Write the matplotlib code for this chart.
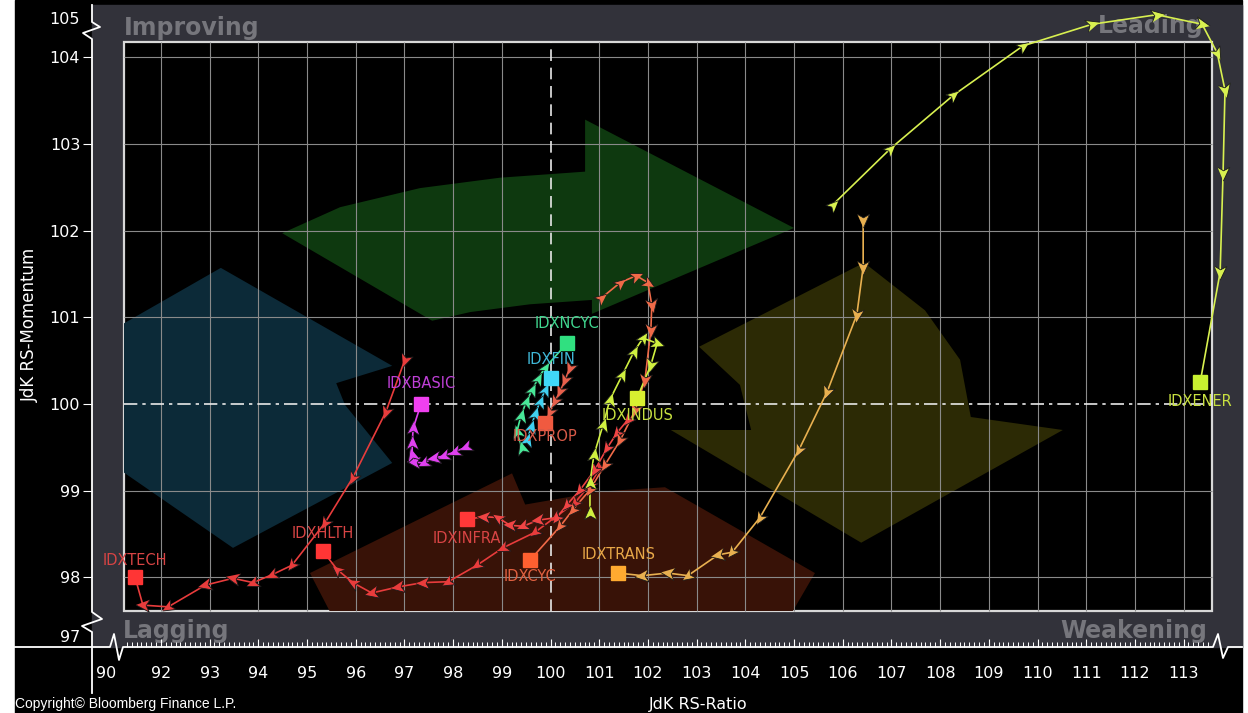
import numpy as np
import matplotlib.pyplot as plt
from matplotlib.patches import Rectangle, Polygon
from matplotlib.ticker import FixedLocator
from matplotlib import font_manager as fm

# RRG tails: JdK RS-Ratio (x) and JdK RS-Momentum (y), oldest -> latest
tech_x = [97.01, 96.62, 95.94, 95.37, 94.69, 94.28, 93.89, 93.48, 92.91, 92.15, 91.63, 91.47]
tech_y = [100.51, 99.91, 99.15, 98.63, 98.14, 98.03, 97.94, 97.99, 97.91, 97.66, 97.68, 98.00]
hlth_x = [101.02, 100.81, 100.50, 100.11, 99.68, 99.02, 98.49, 97.90, 97.38, 96.87, 96.33, 95.94, 95.62, 95.33]
hlth_y = [99.26, 99.07, 98.86, 98.70, 98.52, 98.34, 98.14, 97.95, 97.94, 97.89, 97.82, 97.94, 98.09, 98.30]
infra_x = [101.59, 101.37, 101.16, 100.91, 100.61, 100.34, 100.13, 99.74, 99.44, 99.17, 98.92, 98.63, 98.29]
infra_y = [99.82, 99.67, 99.49, 99.24, 99.01, 98.84, 98.69, 98.66, 98.59, 98.60, 98.69, 98.70, 98.67]
cyc_x = [101.04, 101.43, 101.76, 102.00, 102.08, 102.06, 101.94, 101.74, 101.43, 101.12, 100.81, 100.46, 100.20, 99.58]
cyc_y = [101.22, 101.40, 101.48, 101.40, 101.14, 100.85, 100.28, 99.93, 99.58, 99.30, 99.01, 98.78, 98.59, 98.20]
prop_x = [100.40, 100.30, 100.20, 100.09, 99.99, 99.89]
prop_y = [100.42, 100.28, 100.15, 100.03, 99.91, 99.78]
fin_x = [99.52, 99.60, 99.68, 99.78, 99.89, 100.01]
fin_y = [99.58, 99.73, 99.88, 100.02, 100.16, 100.30]
ncyc_x = [99.41, 99.31, 99.39, 99.50, 99.62, 99.74, 99.89, 100.34]
ncyc_y = [99.49, 99.68, 99.86, 100.02, 100.16, 100.29, 100.42, 100.70]
indus_x = [100.81, 100.81, 100.89, 101.08, 101.22, 101.47, 101.71, 101.90, 102.19, 102.06, 101.78]
indus_y = [98.74, 99.09, 99.41, 99.76, 100.05, 100.33, 100.60, 100.76, 100.70, 100.45, 100.07]
basic_x = [98.26, 98.04, 97.81, 97.61, 97.40, 97.20, 97.16, 97.16, 97.18, 97.34]
basic_y = [99.50, 99.45, 99.40, 99.38, 99.32, 99.33, 99.41, 99.55, 99.72, 100.00]
trans_x = [106.42, 106.42, 106.29, 105.68, 105.10, 104.30, 103.73, 103.44, 102.82, 102.41, 101.88, 101.39]
trans_y = [102.12, 101.58, 101.03, 100.14, 99.47, 98.69, 98.29, 98.26, 98.02, 98.05, 98.02, 98.05]
ener_x = [105.80, 106.97, 108.27, 109.70, 111.12, 112.45, 113.38, 113.69, 113.85, 113.81, 113.75, 113.34]
ener_y = [102.30, 102.94, 103.56, 104.13, 104.38, 104.49, 104.38, 104.05, 103.62, 102.66, 101.52, 100.25]

x_major = list(range(92, 114))
y_major = list(range(98, 105))

# faded rotation arrows in the background (data coords)
green_arrow = [(94.49, 101.97), (95.68, 102.27), (97.32, 102.49), (98.96, 102.61), (100.71, 102.68),
               (100.71, 103.28), (105.00, 102.03), (100.85, 101.04), (100.85, 101.20), (99.58, 101.15),
               (98.35, 101.06), (97.57, 100.96)]
blue_arrow = [(93.23, 101.57), (96.75, 100.44), (95.60, 100.24), (95.78, 99.99), (96.75, 99.32),
              (93.48, 98.34), (91.16, 99.24), (90.65, 100.74)]
yellow_arrow = [(106.44, 101.63), (107.69, 101.08), (108.41, 100.51), (108.63, 99.85), (110.52, 99.70),
                (106.38, 98.40), (102.47, 99.70), (104.12, 99.70), (103.89, 100.22), (103.05, 100.66)]
red_arrow = [(99.21, 99.20), (95.06, 98.05), (95.88, 97.16), (104.51, 97.16), (105.43, 98.05),
             (102.35, 99.04), (101.02, 98.99), (99.48, 98.84)]

W, H = 1248, 713
avail = {f.name for f in fm.fontManager.ttflist}
narrow = 'Liberation Sans Narrow' in avail
lab_font = 'Liberation Sans Narrow' if narrow else 'DejaVu Sans'
tick_fs = 14 if narrow else 11.5
name_fs = 13 if narrow else 10.5

fig = plt.figure(figsize=(W / 100, H / 100), dpi=100)
fig.patch.set_facecolor('white')

# pixel overlay for the frame, broken axes and captions
bg = fig.add_axes([0, 0, 1, 1], zorder=0)
bg.set_xlim(0, W)
bg.set_ylim(H, 0)
bg.axis('off')
bg.add_patch(Rectangle((15, 0), 1227, 713, color='black'))
bg.add_patch(Rectangle((92, 5), 1150, 642, color='#32323a'))
bg.plot([92, 92, 100, 83, 92, 92, 102, 82, 92, 92], [5, 22, 27, 33, 39, 612, 619, 626, 632, 693],
        color='white', lw=1.3)
bg.plot([15, 110, 114, 119, 123, 1213, 1218, 1223, 1228, 1242], [647, 647, 634, 660, 647, 647, 634, 658, 647, 647],
        color='white', lw=1.3)
bg.text(80, 20, '105', ha='right', va='center', color='white', fontsize=tick_fs, family=lab_font)
bg.text(80, 637, '97', ha='right', va='center', color='white', fontsize=tick_fs, family=lab_font)
bg.text(106, 666, '90', ha='center', va='top', color='white', fontsize=tick_fs, family=lab_font)
bg.text(698, 704, 'JdK RS-Ratio', ha='center', va='center', color='white', fontsize=11.5)
bg.text(30, 325, 'JdK RS-Momentum', ha='center', va='center', rotation=90, color='white', fontsize=12)
bg.text(15, 704, 'Copyright\u00a9 Bloomberg Finance L.P.', ha='left', va='center', color='white',
        fontsize=10, family=['Liberation Sans', 'DejaVu Sans'])
qcol = '#76767c'
bg.text(124, 35, 'Improving', ha='left', va='baseline', color=qcol, fontsize=17, fontweight='bold')
bg.text(1203, 33, 'Leading', ha='right', va='baseline', color=qcol, fontsize=17, fontweight='bold')
bg.text(123, 638, 'Lagging', ha='left', va='baseline', color=qcol, fontsize=17, fontweight='bold')
bg.text(1207, 638, 'Weakening', ha='right', va='baseline', color=qcol, fontsize=17, fontweight='bold')

# data axes
ax = fig.add_axes([92 / W, (H - 647) / H, 1150 / W, 642 / H], zorder=1)
ax.set_facecolor('none')
ax.set_xlim(90.585, 114.199)
ax.set_ylim(97.197, 104.602)
for s in ax.spines.values():
    s.set_visible(False)

x0, x1, y0, y1 = 91.24, 113.583, 97.612, 104.175
plot_box = Rectangle((x0, y0), x1 - x0, y1 - y0, facecolor='black', edgecolor='#d8d8d8', lw=1.6, zorder=0.5)
ax.add_patch(plot_box)

for pts, col in [(green_arrow, '#0e390f'), (blue_arrow, '#0c2a38'), (yellow_arrow, '#2c2a05'), (red_arrow, '#381207')]:
    p = Polygon(pts, closed=True, facecolor=col, edgecolor='none', zorder=1)
    ax.add_patch(p)
    p.set_clip_path(plot_box)

ax.vlines([v for v in x_major if v != 100], y0, y1, color='#8a8a8a', lw=0.8, zorder=2)
ax.hlines([v for v in y_major if v != 100], x0, x1, color='#8a8a8a', lw=0.8, zorder=2)
ax.vlines(100, y0, y1, color='#e8e8e8', lw=1.2, linestyles=(0, (7, 4)), zorder=2)
ax.hlines(100, x0, x1, color='#e8e8e8', lw=1.2, linestyles=(0, (8, 3, 2, 3)), zorder=2)

ax.set_xticks(x_major)
ax.set_xticklabels([str(v) for v in x_major])
ax.xaxis.set_minor_locator(FixedLocator(np.arange(913, 1136) / 10))
ax.set_yticks(y_major)
ax.set_yticklabels([str(v) for v in y_major])
ax.tick_params(axis='x', which='major', direction='in', length=6, width=0.8, color='white',
               labelcolor='white', pad=13.5, labelsize=tick_fs)
ax.tick_params(axis='x', which='minor', direction='in', length=3.5, width=0.7, color='white')
ax.tick_params(axis='y', which='major', direction='out', length=6.5, width=0.8, color='white',
               labelcolor='white', pad=2, labelsize=tick_fs)
for lab in ax.get_xticklabels() + ax.get_yticklabels():
    lab.set_family(lab_font)

series = [
    ('IDXTECH', tech_x, tech_y, '#e83c3c', '#ff3535', '#d84444', 12),
    ('IDXHLTH', hlth_x, hlth_y, '#e83c3c', '#ff3535', '#d84444', 13),
    ('IDXINFRA', infra_x, infra_y, '#f04444', '#ff3838', '#d84444', -13.5),
    ('IDXCYC', cyc_x, cyc_y, '#f06a48', '#ff6030', '#e06040', -12),
    ('IDXPROP', prop_x, prop_y, '#e8604c', '#f05a40', '#d85a48', -10),
    ('IDXFIN', fin_x, fin_y, '#40d0f0', '#40d8f8', '#40b8d8', 13),
    ('IDXNCYC', ncyc_x, ncyc_y, '#48e898', '#30e080', '#40d890', 14),
    ('IDXBASIC', basic_x, basic_y, '#e040f0', '#f040f0', '#c040d8', 15),
    ('IDXINDUS', indus_x, indus_y, '#d0f040', '#d8f030', '#c8e040', -13),
    ('IDXTRANS', trans_x, trans_y, '#e8b050', '#ffaa30', '#e8a848', 13),
    ('IDXENER', ener_x, ener_y, '#d8f050', '#c8f030', '#c8e040', -14),
]

dart = np.array([[1.0, 0.0], [-0.8, 0.8], [-0.35, 0.0], [-0.8, -0.8]])


def dart_at(dx, dy):
    a = np.arctan2(dy, dx)
    c, s = np.cos(a), np.sin(a)
    return dart @ np.array([[c, s], [-s, c]])


for name, xs, ys, lcol, scol, tcol, dy in series:
    ax.plot(xs, ys, color=lcol, lw=1.2, zorder=4, solid_capstyle='round')
    d = ax.transData.transform(np.column_stack([xs, ys]))
    for i in range(len(xs) - 1):
        v = d[1] - d[0] if i == 0 else d[i] - d[i - 1]
        ax.plot(xs[i], ys[i], marker=dart_at(v[0], v[1]), ms=11, mfc=lcol, mec='#1a1a1a', mew=0.6,
                ls='none', zorder=5)
    ax.plot(xs[-1], ys[-1], marker='s', ms=10, mfc=scol, mec=scol, ls='none', zorder=6)
    ax.annotate(name, (xs[-1], ys[-1]), xytext=(0, dy), textcoords='offset points', ha='center',
                va='center', color=tcol, fontsize=name_fs, family=lab_font, zorder=7)

fig.savefig('out.png', dpi=100)
